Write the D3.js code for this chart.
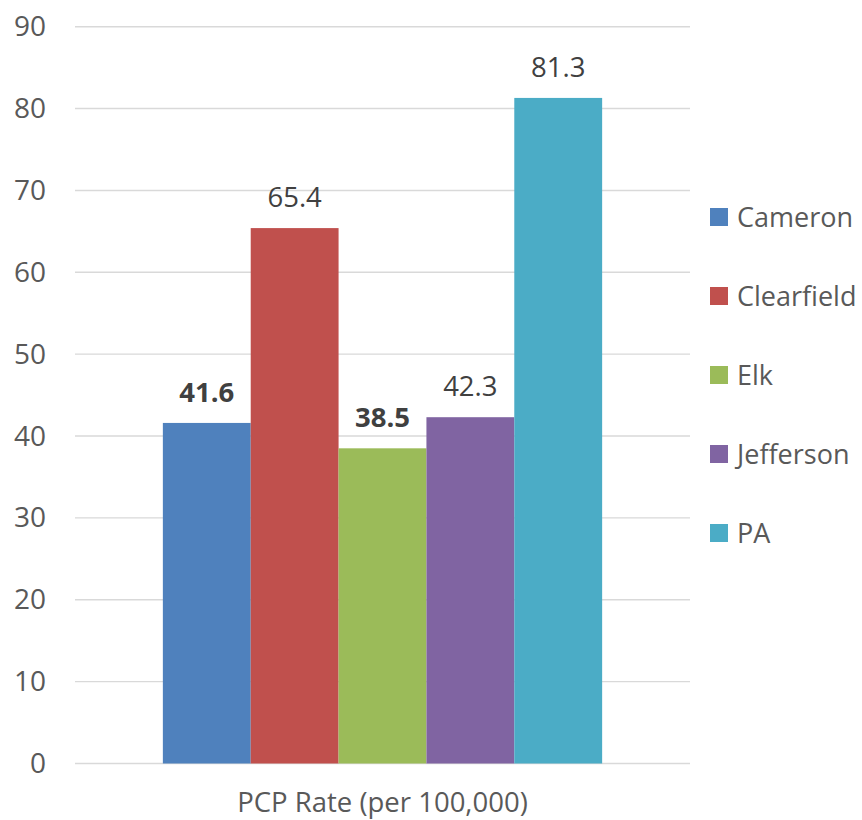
<!DOCTYPE html>
<html>
<head>
<meta charset="utf-8">
<script src="https://cdn.jsdelivr.net/npm/d3@7"></script>
<style>
  body { margin: 0; background: #fff; }
  text { font-family: "Open Sans", "Noto Sans", sans-serif; }
</style>
</head>
<body>
<div id="chart"></div>
<script>
'use strict';

// chart data
var categories = ["Cameron", "Clearfield", "Elk", "Jefferson", "PA"];
var values = [41.6, 65.4, 38.5, 42.3, 81.3];
var boldLabel = [true, false, true, false, false];
var colors = ["#4F81BD", "#C0504D", "#9BBB59", "#8064A2", "#4BACC6"];
var yTicks = [0, 10, 20, 30, 40, 50, 60, 70, 80, 90];
var axisTitle = "PCP Rate (per 100,000)";

var width = 862, height = 820;
var plot = { left: 75, right: 690, top: 26.7, bottom: 763.5 };

var svg = d3.select("#chart")
  .append("svg")
  .attr("width", width)
  .attr("height", height);

var y = d3.scaleLinear()
  .domain([0, 90])
  .range([plot.bottom, plot.top]);

var x = d3.scaleBand()
  .domain(categories)
  .range([plot.left, plot.right])
  .paddingInner(0)
  .paddingOuter(1);

// gridlines
svg.append("g")
  .selectAll("line")
  .data(yTicks)
  .enter()
  .append("line")
  .attr("x1", plot.left)
  .attr("x2", plot.right)
  .attr("y1", function(d) { return y(d); })
  .attr("y2", function(d) { return y(d); })
  .attr("stroke", "#D9D9D9")
  .attr("stroke-width", 1.4);

// y axis labels
var yAxis = d3.axisLeft(y).tickValues(yTicks).tickSize(0).tickPadding(0);
var yg = svg.append("g")
  .attr("transform", "translate(46,0)")
  .call(yAxis);
yg.select(".domain").remove();
yg.selectAll("text")
  .attr("fill", "#595959")
  .style("font-size", "28px")
  .style("font-family", "'Open Sans', sans-serif");

// bars
svg.append("g")
  .selectAll("rect")
  .data(categories)
  .enter()
  .append("rect")
  .attr("x", function(d) { return x(d); })
  .attr("y", function(d, i) { return y(values[i]); })
  .attr("width", x.bandwidth())
  .attr("height", function(d, i) { return y(0) - y(values[i]); })
  .attr("fill", function(d, i) { return colors[i]; });

// data labels
svg.append("g")
  .selectAll("text")
  .data(categories)
  .enter()
  .append("text")
  .attr("x", function(d) { return x(d) + x.bandwidth() / 2; })
  .attr("y", function(d, i) { return y(values[i]) - 21; })
  .attr("text-anchor", "middle")
  .attr("fill", "#404040")
  .style("font-size", "27.5px")
  .style("font-weight", function(d, i) { return boldLabel[i] ? "bold" : "normal"; })
  .text(function(d, i) { return values[i].toFixed(1); });

// x axis title
svg.append("text")
  .attr("x", (plot.left + plot.right) / 2)
  .attr("y", 812)
  .attr("text-anchor", "middle")
  .attr("fill", "#595959")
  .style("font-size", "27.5px")
  .text(axisTitle);

// legend
var legend = svg.append("g")
  .selectAll("g")
  .data(categories)
  .enter()
  .append("g")
  .attr("transform", function(d, i) { return "translate(710," + (217 + i * 79) + ")"; });

legend.append("rect")
  .attr("x", 0)
  .attr("y", -9)
  .attr("width", 18)
  .attr("height", 18)
  .attr("fill", function(d, i) { return colors[i]; });

legend.append("text")
  .attr("x", 27)
  .attr("y", 0)
  .attr("dy", "0.36em")
  .attr("fill", "#595959")
  .style("font-size", "27px")
  .text(function(d) { return d; });
</script>
</body>
</html>
